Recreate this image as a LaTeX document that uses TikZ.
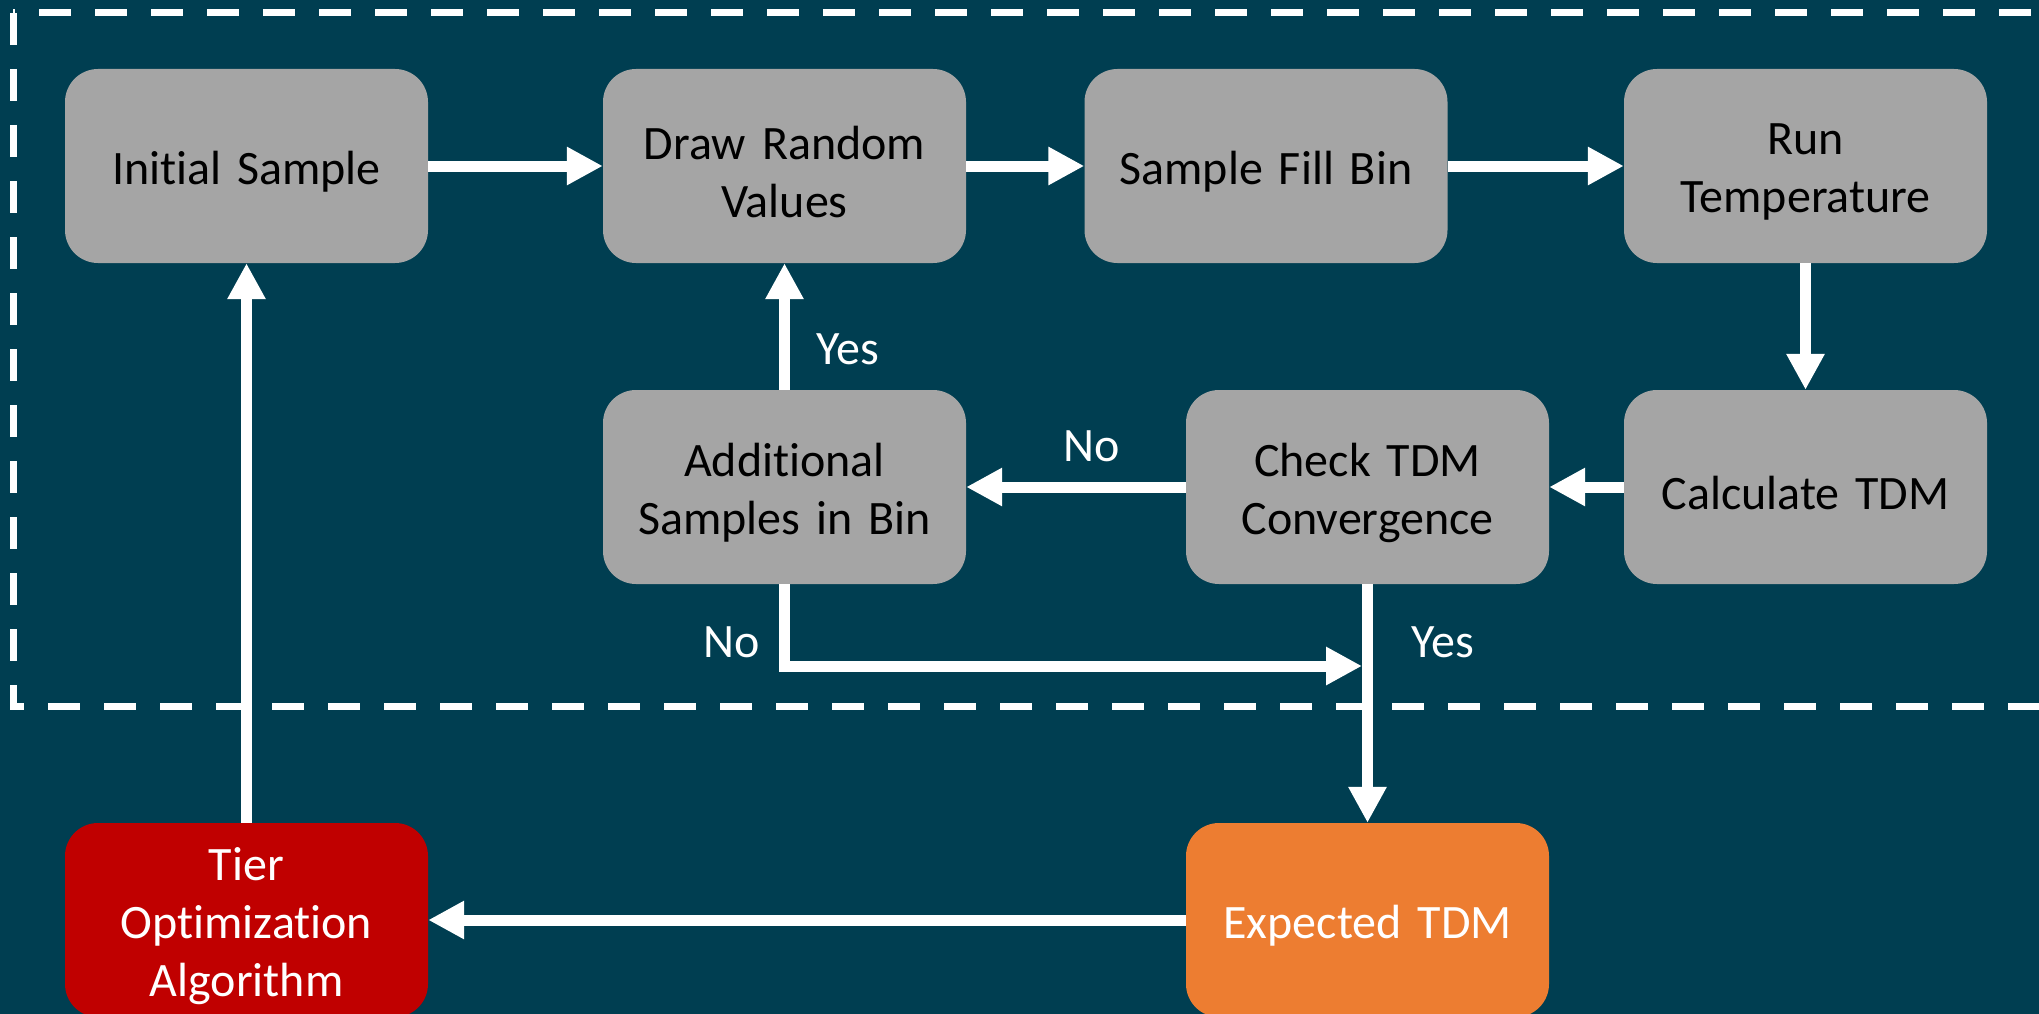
\documentclass[tikz,border=0pt]{standalone}
\usepackage{fontspec}
\setmainfont{Carlito}[Ligatures=CommonOff]
\usetikzlibrary{arrows.meta}
\definecolor{bg}{RGB}{0,62,81}
\definecolor{boxgray}{RGB}{165,165,165}
\definecolor{tierred}{RGB}{192,0,0}
\definecolor{exporange}{RGB}{237,125,49}

\begin{document}
\begin{tikzpicture}[x=1pt,y=-1pt,
  stepbox/.style={rounded corners=33pt, minimum width=363pt, minimum height=194pt,
    fill=boxgray, inner sep=0pt},
  boxtext/.style={text=black, align=center, inner sep=0pt, text width=340pt,
    yshift=-6pt, font=\fontsize{48}{58}\selectfont},
  lighttext/.style={boxtext, text=white},
  flow/.style={draw=white, line width=11pt, -{Triangle[length=36pt,width=36pt]}},
  lbl/.style={text=white, inner sep=0pt, font=\fontsize{48}{58}\selectfont},
  frame/.style={draw=white, line width=7pt, line cap=butt}]

  % page and background
  \useasboundingbox (0,0) rectangle (2039,1014);
  \fill[bg] (0,0) rectangle (2039,1014);

  % dashed frame around the sampling loop
  \draw[frame, dash pattern=on 32pt off 24pt] (13,13) -- (13,706) -- (2100,706);
  \draw[frame, dash pattern=on 32pt off 24pt, dash phase=30pt] (13,13) -- (2100,13);

  % process steps
  \node[stepbox, label={[boxtext]center:{Initial Sample}}] (init) at (246.5,166) {};
  \node[stepbox, label={[boxtext]center:{Draw Random\\Values}}] (draw) at (784.5,166) {};
  \node[stepbox, label={[boxtext]center:{Sample Fill Bin}}] (fill) at (1266,166) {};
  \node[stepbox, label={[boxtext]center:{Run\\Temperature}}] (run) at (1805.5,166) {};
  \node[stepbox, label={[boxtext]center:{Additional\\Samples in Bin}}] (add) at (784.5,487) {};
  \node[stepbox, label={[boxtext]center:{Check TDM\\Convergence}}] (check) at (1367.5,487) {};
  \node[stepbox, label={[boxtext]center:{Calculate TDM}}] (calc) at (1805.5,487) {};
  \node[stepbox, fill=tierred, label={[lighttext]center:{Tier\\Optimization\\Algorithm}}] (tier) at (246.5,920) {};
  \node[stepbox, fill=exporange, label={[lighttext]center:{Expected TDM}}] (exp) at (1367.5,920) {};

  % connectors
  \coordinate (join) at (1362,666);
  \draw[flow] (init) -- (draw);
  \draw[flow] (draw) -- (fill);
  \draw[flow] (fill) -- (run);
  \draw[flow] (run) -- (calc);
  \draw[flow] (calc) -- (check);
  \draw[flow] (check) -- (add);
  \draw[flow] (add) -- (draw);
  \draw[flow] (add.south) |- (join);
  \draw[flow] (check) -- (exp);
  \draw[flow] (exp) -- (tier);
  \draw[flow] (tier) -- (init);

  % branch labels
  \node[lbl] (yesup)   at (848,349)  {Yes};
  \node[lbl] (noleft)  at (1092,446) {No};
  \node[lbl] (nodown)  at (732,642)  {No};
  \node[lbl] (yesdown) at (1443,642) {Yes};
\end{tikzpicture}
\end{document}
